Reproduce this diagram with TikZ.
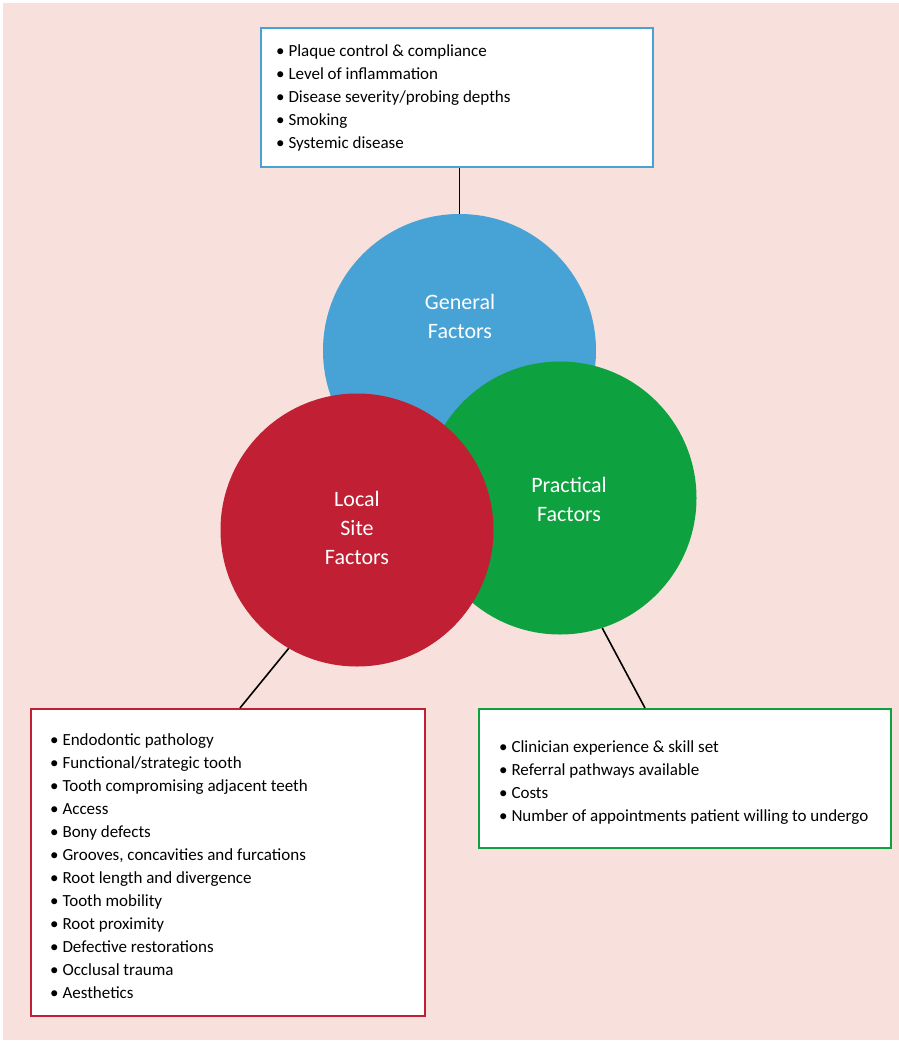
\documentclass[tikz,border=0pt]{standalone}
\usepackage{fontspec}
\setmainfont{Carlito}
\definecolor{bg}{HTML}{F8E1DC}
\definecolor{cblue}{HTML}{47A2D5}
\definecolor{cgreen}{HTML}{0DA13F}
\definecolor{cred}{HTML}{C11F33}
\begin{document}
\begin{tikzpicture}[x=1pt,y=-1pt,
  circ/.style={circle,minimum size=273pt,inner sep=0pt},
  ctext/.style={text=white,font=\fontsize{22}{29}\selectfont,align=center},
  box/.style={draw,line width=2pt,fill=white,anchor=north west,inner sep=0pt},
  list/.style={anchor=north west,align=left,font=\fontsize{17}{23}\selectfont,inner sep=0pt},
  conn/.style={line width=1.6pt,black}]
\useasboundingbox (0,0) rectangle (899,1041);
\fill[bg] (3,3) rectangle (899,1040);
% boxes
\node[box,draw=cblue,minimum width=392pt,minimum height=139pt] (gbox) at (260,27) {};
\node[box,draw=cred,minimum width=394pt,minimum height=307pt] (rbox) at (30,708) {};
\node[box,draw=cgreen,minimum width=412pt,minimum height=139pt] (pbox) at (478,708) {};
% circles
\node[circ,fill=cblue] (gen) at (459.5,350.5) {};
\node[circ,fill=cgreen] (pra) at (560,498) {};
\node[circ,fill=cred] (loc) at (357,530) {};
\node[ctext] (gent) at (460,316.5) {General\\Factors};
\node[ctext] (prat) at (569,499.5) {Practical\\Factors};
\node[ctext] (loct) at (357,528) {Local\\Site\\Factors};
% lists
\node[list] (glist) at (276,44) {• Plaque control \& compliance\\• Level of inflammation\\• Disease severity/probing depths\\• Smoking\\• Systemic disease};
\node[list] (rlist) at (50,733) {• Endodontic pathology\\• Functional/strategic tooth\\• Tooth compromising adjacent teeth\\• Access\\• Bony defects\\• Grooves, concavities and furcations\\• Root length and divergence\\• Tooth mobility\\• Root proximity\\• Defective restorations\\• Occlusal trauma\\• Aesthetics};
\node[list] (plist) at (499,740) {• Clinician experience \& skill set\\• Referral pathways available\\• Costs\\• Number of appointments patient willing to undergo};
% connectors
\coordinate (rb) at (240,708);
\coordinate (pb) at (645,708);
\draw[conn] (gen.north |- gbox.south) -- (gen.north);
\draw[conn] (loc.240.8) -- (rb);
\draw[conn] (pra.288.4) -- (pb);
\end{tikzpicture}
\end{document}
